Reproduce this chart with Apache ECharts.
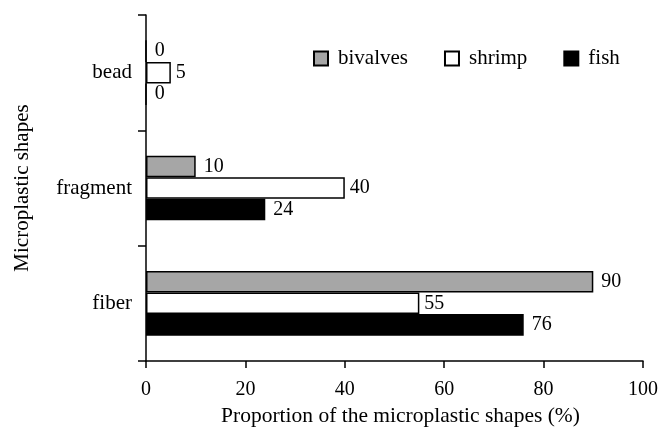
<!DOCTYPE html>
<html>
<head>
<meta charset="utf-8">
<script src="https://cdn.jsdelivr.net/npm/echarts@6/dist/echarts.min.js"></script>
<style>html,body{margin:0;padding:0;background:#fff;}#c{width:661px;height:432px;}</style>
</head>
<body>
<div id="c"></div>
<script>
const categories = ['fiber', 'fragment', 'bead'];
const bivalves = [90, 10, 0];
const shrimp = [55, 40, 5];
const fish = [76, 24, 0];
const xTicks = [0, 20, 40, 60, 80, 100];

const FONT = '"Liberation Serif", "Times New Roman", serif';
const chart = echarts.init(document.getElementById('c'), null, {renderer: 'canvas'});

function mk(name, data, color, dist) {
  return {
    name: name, type: 'bar', data: data,
    barGap: '0%', barCategoryGap: '44%',
    itemStyle: {color: color, borderColor: '#000', borderWidth: 1.5},
    label: {show: true, position: 'right', distance: dist, color: '#000', fontFamily: FONT, fontSize: 20},
    emphasis: {disabled: true}
  };
}

chart.setOption({
  animation: false,
  textStyle: {fontFamily: FONT, color: '#000'},
  grid: {left: 146, right: 18, top: 15, bottom: 71, containLabel: false},
  legend: {
    data: ['bivalves', 'shrimp', 'fish'],
    left: 308, top: 43, itemWidth: 14, itemHeight: 14, itemGap: 36, icon: 'rect',
    textStyle: {fontFamily: FONT, fontSize: 21, color: '#000', padding: [0, 0, 0, 5]}
  },
  xAxis: {
    type: 'value', min: xTicks[0], max: xTicks[xTicks.length - 1], interval: 20,
    name: 'Proportion of the microplastic shapes (%)', nameLocation: 'middle', nameGap: 41,
    nameTextStyle: {fontFamily: FONT, fontSize: 21.5, color: '#000', padding: [0, 0, 0, 12]},
    axisLine: {show: true, lineStyle: {color: '#000', width: 1.5}},
    axisTick: {show: true, length: 7, lineStyle: {color: '#000', width: 1.5}},
    axisLabel: {margin: 19, fontFamily: FONT, fontSize: 20, color: '#000'},
    splitLine: {show: false}
  },
  yAxis: {
    type: 'category', data: categories,
    name: 'Microplastic shapes', nameLocation: 'middle', nameGap: 113, nameRotate: 90,
    nameTextStyle: {fontFamily: FONT, fontSize: 21, color: '#000'},
    axisLine: {show: true, lineStyle: {color: '#000', width: 1.5}},
    axisTick: {show: true, length: 8, lineStyle: {color: '#000', width: 1.5}},
    axisLabel: {margin: 14, fontFamily: FONT, fontSize: 21, color: '#000'},
    splitLine: {show: false}
  },
  series: [
    mk('bivalves', bivalves, '#a6a6a6', 8),
    mk('shrimp', shrimp, '#ffffff', 5),
    mk('fish', fish, '#000000', 8)
  ]
});
</script>
</body>
</html>
